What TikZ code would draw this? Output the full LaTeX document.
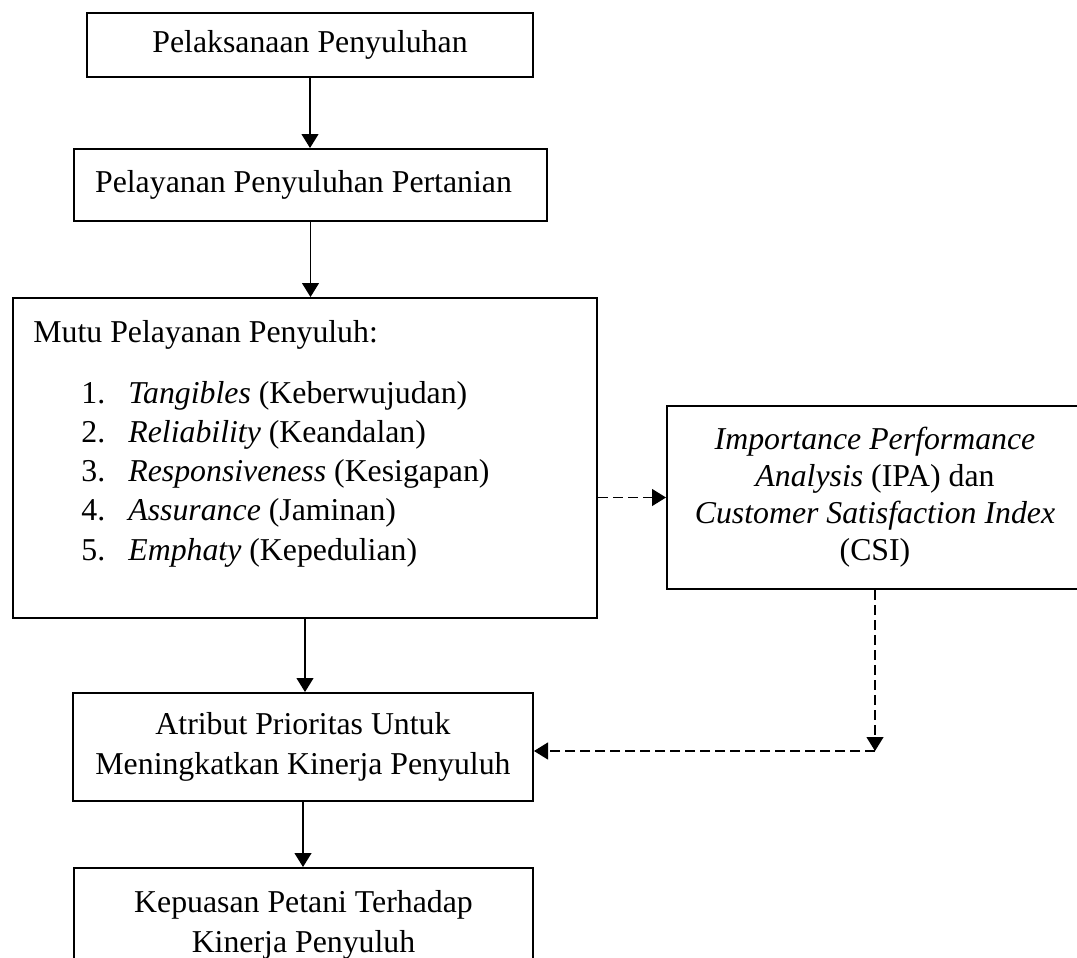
\documentclass[tikz,border=0pt]{standalone}
\usepackage{fontspec}
\setmainfont{Liberation Serif}
\usepackage{tikz}
\usetikzlibrary{arrows.meta}

\tikzset{
  box/.style={draw, line width=1pt, align=center, inner sep=0pt,
              font=\fontsize{15.9}{20}\selectfont},
  txt/.style={inner sep=0pt, font=\fontsize{15.9}{19.5}\selectfont},
  arr/.style={line width=0.6pt, -{Triangle[length=7pt,width=8.5pt]}},
  dasharr/.style={arr, dash pattern=on 5pt off 2.5pt}
}

\begin{document}
\begin{tikzpicture}[x=0.5pt,y=-0.5pt]
  \useasboundingbox (0,0) rectangle (1077,958);
  % left column
  \node[box, minimum width=223pt, minimum height=32pt] (pelaksanaan) at (310,45)
    {Pelaksanaan Penyuluhan};
  \node[box, minimum width=236.5pt, minimum height=36pt] (pelayanan) at (310.5,185)
    {\hspace*{-7pt}Pelayanan Penyuluhan Pertanian};
  \node[box, minimum width=292pt, minimum height=160pt] (mutu) at (305,458) {};
  \node[txt, anchor=base west] (mututitle) at (33,342) {Mutu Pelayanan Penyuluh:};
  \foreach \eng/\ind [count=\i] in {Tangibles/Keberwujudan, Reliability/Keandalan,
      Responsiveness/Kesigapan, Assurance/Jaminan, Emphaty/Kepedulian} {
    \node[txt, anchor=base west] (num\i) at (81,{403+(\i-1)*39.25}) {\i.};
    \node[txt, anchor=base west] (item\i) at (128,{403+(\i-1)*39.25})
      {\textit{\eng} (\ind)};
  }
  \node[box, minimum width=230pt, minimum height=54pt] (atribut) at (303,747)
    {Atribut Prioritas Untuk\\Meningkatkan Kinerja Penyuluh};
  \node[box, minimum width=229.5pt, minimum height=57pt] (kepuasan) at (303.5,925)
    {Kepuasan Petani Terhadap\\Kinerja Penyuluh};
  % right box
  \node[box, minimum width=208pt, minimum height=91.5pt,
        font=\fontsize{15.9}{18.5}\selectfont] (ipa) at (875,497.5)
    {\textit{Importance Performance}\\\textit{Analysis} (IPA) dan\\
     \textit{Customer Satisfaction Index}\\(CSI)};
  \coordinate (turn) at (ipa.south |- 0,751);

  \draw[arr] (pelaksanaan.south) -- (pelaksanaan.south |- pelayanan.north);
  \draw[arr] (pelayanan.south) -- (pelayanan.south |- mutu.north);
  \draw[arr] (mutu.south) -- (mutu.south |- atribut.north);
  \draw[arr] (atribut.south) -- (atribut.south |- kepuasan.north);
  \draw[dasharr] (mutu.east |- ipa.west) -- (ipa.west);
  \draw[dasharr] (ipa.south) -- (turn);
  \draw[dasharr] (turn) -- (atribut.east |- turn);
\end{tikzpicture}
\end{document}
